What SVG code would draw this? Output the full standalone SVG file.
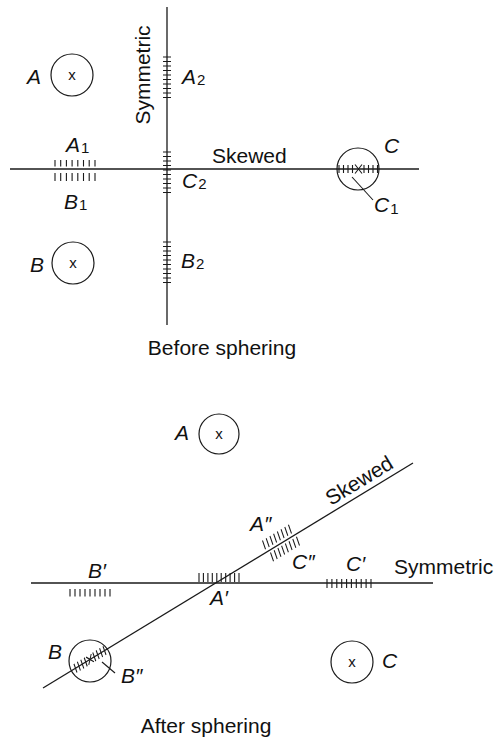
<svg xmlns="http://www.w3.org/2000/svg" width="503" height="738" viewBox="0 0 503 738">
<style>
.ax{stroke:#1a1a1a;stroke-width:1.3;fill:none}
.tk{stroke:#1a1a1a;stroke-width:1.1;fill:none}
.cl{stroke:#1a1a1a;stroke-width:1.2;fill:none}
.lb{font-family:"Liberation Sans",Arial,sans-serif;font-size:21px;font-style:italic;fill:#111}
.sb{font-size:15px;font-style:normal}
.tx{font-family:"Liberation Sans",Arial,sans-serif;font-size:21px;fill:#111}
.xm{font-family:"Liberation Sans",Arial,sans-serif;font-size:15px;fill:#111;text-anchor:middle}
</style>
<rect width="503" height="738" fill="#fff"/>

<!-- TOP: Before sphering -->
<g id="connectors">
  <path class="ax" d="M167 7V325"/>
  <path class="ax" d="M10 169H419"/>
  <path class="ax" d="M43 688L413 463"/>
  <path class="ax" d="M31 583H433"/>
  <path class="tk" d="M352 177L373 200"/>
  <path class="tk" d="M102 662L115 673"/>
</g>

<g id="axis-labels">
  <text class="tx" transform="translate(150 75) rotate(-90)" text-anchor="middle">Symmetric</text>
  <text class="tx" x="212" y="163">Skewed</text>
  <text class="tx" transform="translate(331 506) rotate(-31.3)">Skewed</text>
  <text class="tx" x="394" y="574">Symmetric</text>
</g>

<g id="top-A">
  <circle class="cl" cx="72" cy="75" r="21"/>
  <text class="xm" x="72" y="80">x</text>
  <text class="lb" x="27" y="84">A</text>
</g>
<g id="top-B">
  <circle class="cl" cx="73" cy="263" r="21"/>
  <text class="xm" x="73" y="268">x</text>
  <text class="lb" x="30" y="272">B</text>
</g>
<g id="top-C">
  <circle class="cl" cx="358" cy="169" r="21"/>
  <path class="tk" d="M339 165v8M343.5 165v8M348 165v8M352.5 165v8M364 165v8M368.5 165v8M373 165v8M377.5 165v8"/>
  <path class="tk" d="M355 164.5L362 173.5M355 173.5L362 164.5"/>
  <text class="lb" x="384" y="153">C</text>
  <text class="lb" x="374" y="212">C<tspan class="sb" dx="1" dy="2">1</tspan></text>
</g>
<g id="top-A1">
  <path class="tk" d="M55 160v6.5M60.7 160v6.5M66.4 160v6.5M72.1 160v6.5M77.8 160v6.5M83.5 160v6.5M89.2 160v6.5M95 160v6.5"/>
  <text class="lb" x="66" y="152">A<tspan class="sb" dx="1" dy="1">1</tspan></text>
</g>
<g id="top-B1">
  <path class="tk" d="M55 173v8M60.7 173v8M66.4 173v8M72.1 173v8M77.8 173v8M83.5 173v8M89.2 173v8M95 173v8"/>
  <text class="lb" x="64" y="209">B<tspan class="sb" dx="1" dy="1">1</tspan></text>
</g>
<g id="top-A2">
  <path class="tk" d="M163 57h8M163 61.5h8M163 66h8M163 70.5h8M163 75h8M163 79.5h8M163 84h8M163 88.5h8M163 93h8M163 97.5h8"/>
  <text class="lb" x="182" y="84">A<tspan class="sb" dx="1" dy="1">2</tspan></text>
</g>
<g id="top-C2">
  <path class="tk" d="M163 152h8M163 156.5h8M163 161h8M163 165.5h8M163 170h8M163 174.5h8M163 179h8M163 183.5h8M163 188h8M163 192.5h8"/>
  <text class="lb" x="182" y="188">C<tspan class="sb" dx="1" dy="1">2</tspan></text>
</g>
<g id="top-B2">
  <path class="tk" d="M163 242h8M163 246.5h8M163 251h8M163 255.5h8M163 260h8M163 264.5h8M163 269h8M163 273.5h8M163 278h8M163 282.5h8"/>
  <text class="lb" x="181" y="268">B<tspan class="sb" dx="1" dy="1">2</tspan></text>
</g>
<text class="tx" x="222" y="355" text-anchor="middle">Before sphering</text>

<!-- BOTTOM: After sphering -->
<g id="bot-A">
  <circle class="cl" cx="219" cy="434" r="20"/>
  <text class="xm" x="219" y="439">x</text>
  <text class="lb" x="175" y="440">A</text>
</g>
<g id="bot-C">
  <circle class="cl" cx="352" cy="662" r="21"/>
  <text class="xm" x="352" y="667">x</text>
  <text class="lb" x="382" y="668">C</text>
</g>
<g id="bot-B">
  <circle class="cl" cx="90" cy="661" r="21"/>
  <g transform="translate(90 659.4) rotate(-31.3) skewX(-12)">
    <path class="tk" d="M-17 -4.5v9M-13 -4.5v9M-9 -4.5v9M-5 -4.5v9M5 -4.5v9M9 -4.5v9M13 -4.5v9M17 -4.5v9"/>
    <path class="tk" d="M-3 -4L3 4M-3 4L3 -4"/>
  </g>
  <text class="lb" x="48" y="659">B</text>
  <text class="lb" x="121" y="683">B″</text>
</g>
<g id="bot-Bp">
  <path class="tk" d="M70 589v7.5M75 589v7.5M80 589v7.5M85 589v7.5M90 589v7.5M95 589v7.5M100 589v7.5M105 589v7.5M110 589v7.5"/>
  <text class="lb" x="88" y="578">B′</text>
</g>
<g id="bot-Ap">
  <path class="tk" d="M199 573v9M203.4 573v9M207.9 573v9M212.3 573v9M216.8 573v9M221.2 573v9M225.7 573v9M230.1 573v9M234.6 573v9M239 573v9"/>
  <text class="lb" x="210" y="605">A′</text>
</g>
<g id="bot-Cp">
  <path class="tk" d="M327 579v9M331.9 579v9M336.8 579v9M341.7 579v9M346.6 579v9M351.4 579v9M356.3 579v9M361.2 579v9M366.1 579v9M371 579v9"/>
  <text class="lb" x="346" y="571">C′</text>
</g>
<g id="bot-App">
  <g transform="translate(277 537) rotate(-31.3) skewX(-12)">
    <path class="tk" d="M-15.2 -4.5v9M-10.9 -4.5v9M-6.5 -4.5v9M-2.2 -4.5v9M2.2 -4.5v9M6.5 -4.5v9M10.9 -4.5v9M15.2 -4.5v9"/>
  </g>
  <text class="lb" x="250" y="531">A″</text>
</g>
<g id="bot-Cpp">
  <g transform="translate(285 549) rotate(-31.3) skewX(-12)">
    <path class="tk" d="M-15.2 -4.5v9M-10.9 -4.5v9M-6.5 -4.5v9M-2.2 -4.5v9M2.2 -4.5v9M6.5 -4.5v9M10.9 -4.5v9M15.2 -4.5v9"/>
  </g>
  <text class="lb" x="292" y="569">C″</text>
</g>
<text class="tx" x="206" y="733" text-anchor="middle">After sphering</text>
</svg>
